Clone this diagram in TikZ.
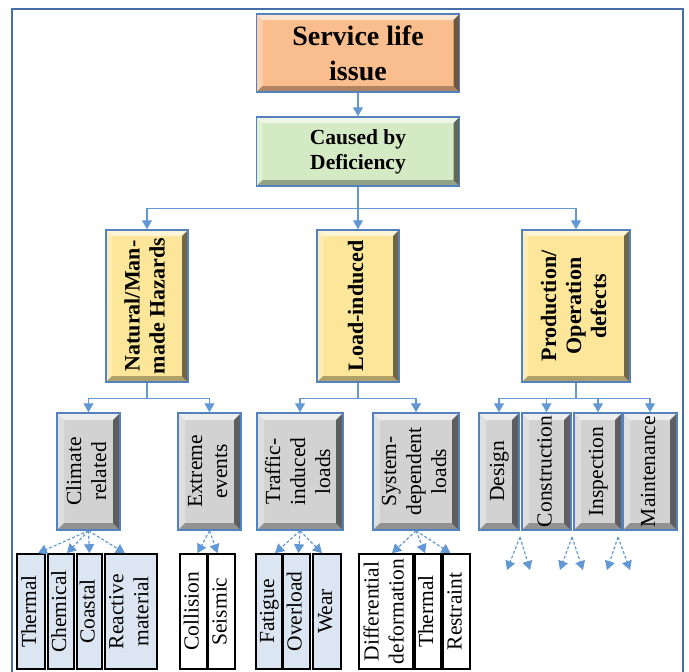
\documentclass[tikz,border=0pt]{standalone}
\usepackage{fontspec}
\setmainfont{Liberation Serif}
\usepackage{graphicx}
\usetikzlibrary{arrows.meta}

\definecolor{orangeF}{RGB}{250,190,142}
\definecolor{greenF}{RGB}{212,234,196}
\definecolor{yellowF}{RGB}{252,230,153}
\definecolor{grayF}{RGB}{210,210,210}
\definecolor{leafF}{RGB}{220,230,242}
\definecolor{edgeB}{RGB}{84,130,190}
\definecolor{lineB}{RGB}{98,152,212}
\definecolor{frameB}{RGB}{70,110,168}

\newcommand{\vlab}[1]{\rotatebox{90}{\begin{tabular}{@{}c@{}}#1\end{tabular}}}

\tikzset{
	bevel/.style = {path picture={
		\path (path picture bounding box.north west) coordinate (pa)
		      (path picture bounding box.north east) coordinate (pb)
		      (path picture bounding box.south east) coordinate (pc)
		      (path picture bounding box.south west) coordinate (pd);
		\fill[white, opacity=.6] (pa) -- (pb) -- ([shift={(-#1,-#1)}]pb) -- ([shift={(#1,-#1)}]pa) -- cycle;
		\fill[white, opacity=.3] (pa) -- (pd) -- ([shift={(#1,#1)}]pd) -- ([shift={(#1,-#1)}]pa) -- cycle;
		\fill[black, opacity=.55] (pb) -- (pc) -- ([shift={(-#1,#1)}]pc) -- ([shift={(-#1,-#1)}]pb) -- cycle;
		\fill[black, opacity=.3] (pd) -- (pc) -- ([shift={(-#1,#1)}]pc) -- ([shift={(#1,#1)}]pd) -- cycle;
	}},
	bevel/.default = 6pt
}

\begin{document}
\begin{tikzpicture}[
	x=1pt, y=1pt,
	hdr/.style = {rectangle, draw=edgeB, line width=1.5pt, bevel, inner sep=0pt, align=center},
	cat/.style = {rectangle, draw=edgeB, line width=1.5pt, bevel, fill=yellowF, inner sep=0pt,
	              minimum height=152pt, font=\bfseries\fontsize{22}{25}\selectfont},
	sub/.style = {rectangle, draw=edgeB, line width=1.5pt, bevel=7pt, fill=grayF, inner sep=0pt,
	              minimum height=117pt, font=\fontsize{21.5}{25}\selectfont},
	lf/.style  = {rectangle, draw=black, line width=1.6pt, fill=leafF, inner sep=0pt,
	              minimum height=115pt, font=\fontsize{21.5}{25}\selectfont},
	lfw/.style = {lf, fill=white},
	ln/.style  = {-{Triangle[width=10pt,length=9pt]}, draw=lineB, line width=1.2pt},
	dl/.style  = {ln, dashed, dash pattern=on 3pt off 2pt}
	]
	
	\useasboundingbox (0,0) rectangle (689,-672);
	
	% === === === Frame === === ===
	\draw[frameB, line width=2.5pt] (12,-672) -- (12,-9) -- (683,-9) -- (683,-672);
	
	% === === === Nodes === === ===
	\node[hdr, fill=orangeF, minimum width=203pt, minimum height=78pt,
	      font=\bfseries\fontsize{28}{35}\selectfont]	(issue)	at	(358, -53)	{Service life\\issue};
	\node[hdr, fill=greenF, minimum width=203pt, minimum height=69pt,
	      font=\bfseries\fontsize{21.5}{25}\selectfont]	(caused)	at	(358, -151.5)	{Caused by\\Deficiency};
	
	\node[cat, minimum width=82pt]	(hazard)	at	(147, -306)	{\vlab{Natural/Man-\\made Hazards}};
	\node[cat, minimum width=82pt]	(load)	at	(358, -306)	{\vlab{Load-induced}};
	\node[cat, minimum width=108pt]	(prod)	at	(576, -306)	{\vlab{Production/\\Operation\\defects}};
	
	\node[sub, minimum width=63pt]	(climate)	at	(88.5, -471.5)	{\vlab{Climate\\related}};
	\node[sub, minimum width=63pt]	(extreme)	at	(209.5, -471.5)	{\vlab{Extreme\\events}};
	\node[sub, minimum width=86pt]	(traffic)	at	(300, -471.5)	{\vlab{Traffic-\\induced\\loads}};
	\node[sub, minimum width=86pt]	(system)	at	(416, -471.5)	{\vlab{System-\\dependent\\loads}};
	\node[sub, minimum width=40pt]	(design)	at	(499, -471.5)	{\vlab{Design}};
	\node[sub, minimum width=49pt]	(constr)	at	(546.5, -471.5)	{\vlab{Construction}};
	\node[sub, minimum width=48pt]	(insp)	at	(598, -471.5)	{\vlab{Inspection}};
	\node[sub, minimum width=54pt]	(maint)	at	(650, -471.5)	{\vlab{Maintenance}};
	
	\node[lf, minimum width=28pt]	(thermal)	at	(31, -611.5)	{\vlab{Thermal}};
	\node[lf, minimum width=26pt]	(chem)	at	(61, -611.5)	{\vlab{Chemical}};
	\node[lf, minimum width=25pt]	(coast)	at	(89.5, -611.5)	{\vlab{Coastal}};
	\node[lf, minimum width=52pt]	(react)	at	(131, -611.5)	{\vlab{Reactive\\material}};
	
	\node[lfw, minimum width=27pt]	(coll)	at	(193.5, -611.5)	{\vlab{Collision}};
	\node[lfw, minimum width=27pt]	(seis)	at	(221.5, -611.5)	{\vlab{Seismic}};
	
	\node[lf, minimum width=26pt]	(fat)	at	(269, -611.5)	{\vlab{Fatigue}};
	\node[lf, minimum width=27pt]	(over)	at	(296.5, -611.5)	{\vlab{Overload}};
	\node[lf, minimum width=28pt]	(wear)	at	(327, -611.5)	{\vlab{Wear}};
	
	\node[lfw, minimum width=54pt]	(diff)	at	(386, -611.5)	{\vlab{Differential\\deformation}};
	\node[lfw, minimum width=26pt]	(therm2)	at	(428, -611.5)	{\vlab{Thermal}};
	\node[lfw, minimum width=27pt]	(restr)	at	(456.5, -611.5)	{\vlab{Restraint}};
	
	% free ends below the production branch
	\coordinate (f1) at (520, -537);
	\coordinate (f1a) at (507, -570);
	\coordinate (f1b) at (530, -570);
	\coordinate (f2) at (572, -537);
	\coordinate (f2a) at (560, -570);
	\coordinate (f2b) at (583, -570);
	\coordinate (f3) at (618, -537);
	\coordinate (f3a) at (607, -570);
	\coordinate (f3b) at (630, -570);
	
	
	
	% === === === Lines === === ===
	\draw[ln] (issue.south) to (caused.north);
	
	\draw[ln] (caused.south) -- ++(0,-22) -| (hazard.north);
	\draw[ln] (caused.south) -- (load.north);
	\draw[ln] (caused.south) -- ++(0,-22) -| (prod.north);
	
	\draw[ln] (hazard.south) -- ++(0,-16) -| (climate.north);
	\draw[ln] (hazard.south) -- ++(0,-16) -| (extreme.north);
	
	\draw[ln] (load.south) -- ++(0,-16) -| (traffic.north);
	\draw[ln] (load.south) -- ++(0,-16) -| (system.north);
	
	\draw[ln] (prod.south) -- ++(0,-16) -| (design.north);
	\draw[ln] (prod.south) -- ++(0,-16) -| (constr.north);
	\draw[ln] (prod.south) -- ++(0,-16) -| (insp.north);
	\draw[ln] (prod.south) -- ++(0,-16) -| (maint.north);
	
	\draw[dl] (climate.south) to ([xshift=7pt]thermal.north);
	\draw[dl] (climate.south) to ([xshift=6pt]chem.north);
	\draw[dl] (climate.south) to (coast.north);
	\draw[dl] (climate.south) to ([xshift=-6pt]react.north);
	
	\draw[dl] (extreme.south) to ([xshift=4pt]coll.north);
	\draw[dl] (extreme.south) to ([xshift=-4pt]seis.north);
	
	\draw[dl] (traffic.south) to ([xshift=6pt]fat.north);
	\draw[dl] (traffic.south) to ([xshift=2pt]over.north);
	\draw[dl] (traffic.south) to ([xshift=-5pt]wear.north);
	
	\draw[dl] (system.south) to ([xshift=6pt]diff.north);
	\draw[dl] (system.south) to ([xshift=-3pt]therm2.north);
	\draw[dl] (system.south) to ([xshift=-6pt]restr.north);
	
	\draw[dl] (f1) to (f1a);
	\draw[dl] (f1) to (f1b);
	\draw[dl] (f2) to (f2a);
	\draw[dl] (f2) to (f2b);
	\draw[dl] (f3) to (f3a);
	\draw[dl] (f3) to (f3b);
	
\end{tikzpicture}
\end{document}
